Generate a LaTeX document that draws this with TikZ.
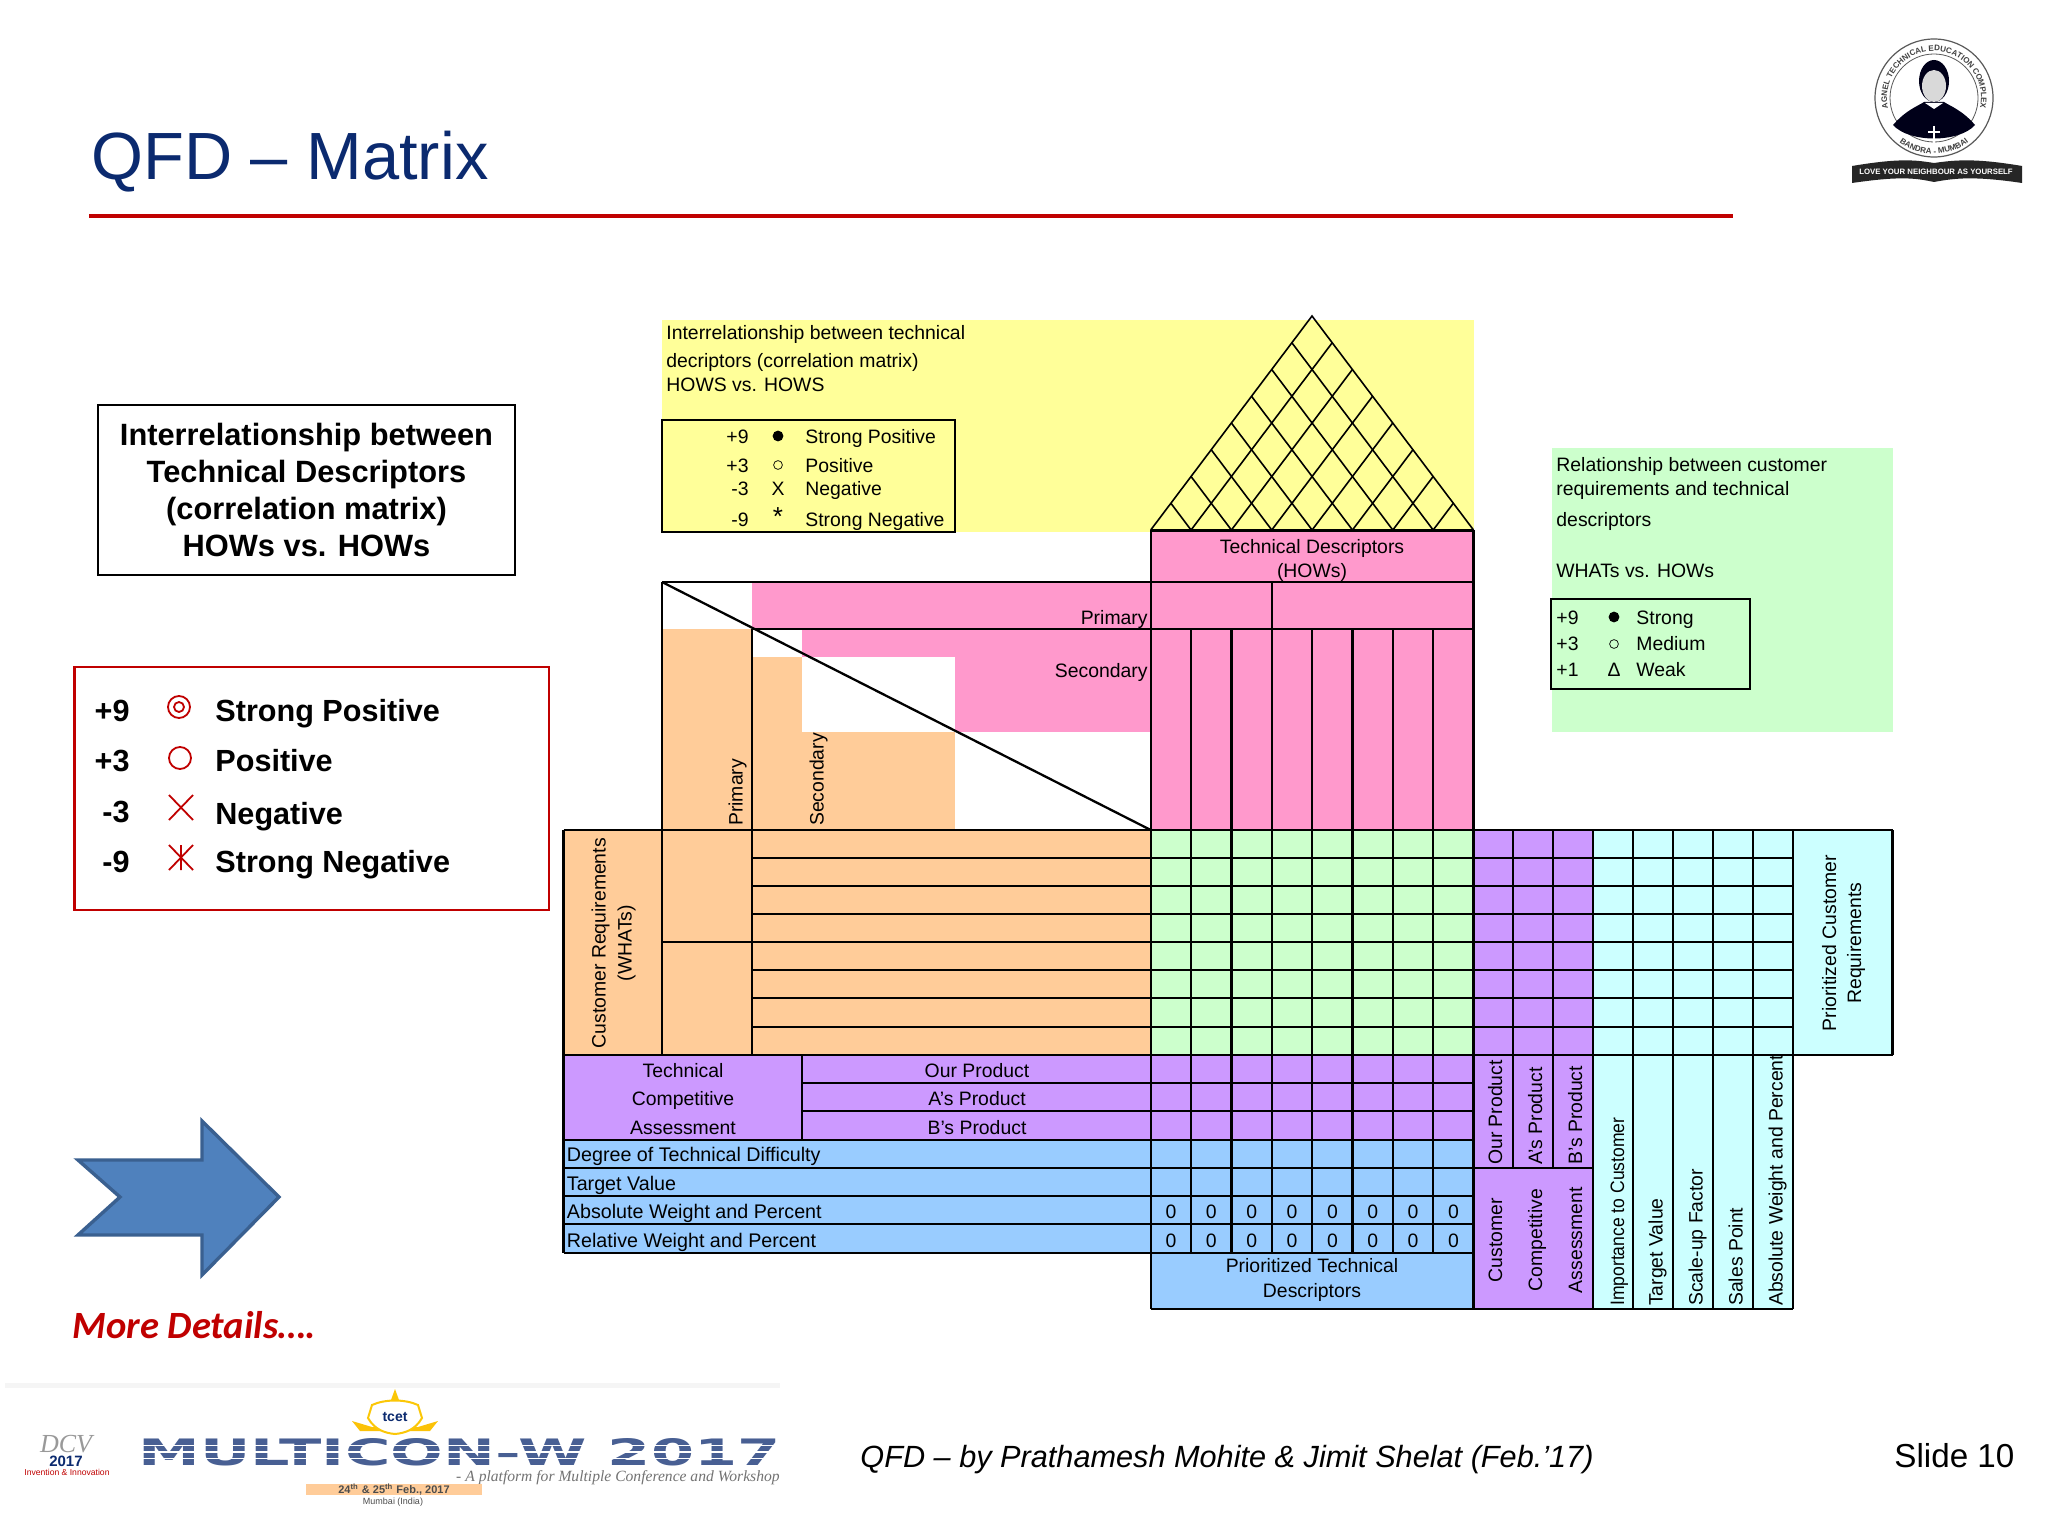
\documentclass[tikz,border=0pt]{standalone}
\usepackage{fontspec}
\setmainfont{Liberation Sans}
\newfontfamily\calibrifont{Carlito}
\newfontfamily\timesfont{Liberation Serif}
\newfontfamily\dejafont{DejaVu Sans}
\usetikzlibrary{decorations.text,calc}
\definecolor{qyellow}{HTML}{FFFF99}
\definecolor{qpink}{HTML}{FF99CC}
\definecolor{qorange}{HTML}{FFCC99}
\definecolor{qgreen}{HTML}{CCFFCC}
\definecolor{qpurple}{HTML}{CC99FF}
\definecolor{qblue}{HTML}{99CCFF}
\definecolor{qcyan}{HTML}{CCFFFF}
\definecolor{qred}{HTML}{C00000}
\definecolor{qnavy}{HTML}{0B2A6F}
\definecolor{qarrow}{HTML}{4F81BD}
\definecolor{qarrowline}{HTML}{3A6090}
\tikzset{
  tx/.style={font=\fontsize{9.7}{11}\selectfont,inner sep=0pt,text=black},
  txl/.style={tx,anchor=mid west,yshift=-1pt},
  txw/.style={tx,anchor=mid west,yshift=-1pt,font=\fontsize{9.85}{11}\selectfont},
  txr/.style={tx,anchor=mid east,yshift=-1pt},
  txc/.style={tx,anchor=mid,yshift=-1pt},
  txup/.style={tx,rotate=90,anchor=mid west,xshift=-0.6pt,yshift=-0.2pt},
  txupc/.style={tx,rotate=90,anchor=mid,xshift=-0.6pt,yshift=-0.2pt},
  gl/.style={line width=1.15pt,draw=black},
  glt/.style={line width=1.05pt,draw=black},
  lat/.style={line width=0.8pt,draw=black},
  big/.style={font=\fontsize{15.3}{17}\bfseries\selectfont,inner sep=0pt,text=black},
  foot/.style={inner sep=0pt,text=black,anchor=base west},
  redsym/.style={line width=0.9pt,draw=qred},
}
\begin{document}
\begin{tikzpicture}[x=0.5pt,y=-0.5pt]
\useasboundingbox (0,0) rectangle (2048,1513);
\fill[white] (0,0) rectangle (2048,1513);

% ---- title
\node[inner sep=0pt,anchor=base west,text=qnavy,font=\fontsize{33.4}{36}\selectfont] (title) at (91,180) {QFD – Matrix};
\draw[qred,line width=1.6pt] (89,216) -- (1733,216);

% ---- left legends
\node[draw=black,line width=1.1pt,minimum width=208.5pt,minimum height=85pt,align=center,inner sep=0pt,
      font=\fontsize{15.4}{18.6}\bfseries\selectfont] (corrbox) at (306.5,490)
  {Interrelationship between\\Technical Descriptors\\(correlation matrix)\\HOWs vs. HOWs};

\draw[qred,line width=1.1pt] (74.5,667) rectangle (549,910);
\node[big,anchor=mid east] (ln1) at (130,716) {+9};
\node[big,anchor=mid east] (ln2) at (130,766) {+3};
\node[big,anchor=mid east] (ln3) at (130,817) {-3};
\node[big,anchor=mid east] (ln4) at (130,867) {-9};
\node[big,anchor=mid west] (lt1) at (215,716) {Strong Positive};
\node[big,anchor=mid west] (lt2) at (215,766) {Positive};
\node[big,anchor=mid west] (lt3) at (215,819) {Negative};
\node[big,anchor=mid west] (lt4) at (215,867) {Strong Negative};
\draw[redsym] (179,707) circle[radius=11];
\draw[redsym] (179,707) circle[radius=5];
\draw[redsym] (180,758) circle[radius=11];
\draw[redsym] (169,795) -- (193,820) (193,795) -- (169,820);
\draw[redsym] (169,845) -- (193,870) (193,845) -- (169,870) (181,845) -- (181,870);

% ---- arrow and link text
\draw[fill=qarrow,draw=qarrowline,line width=1.7pt,line join=miter]
  (78,1160) -- (202,1160) -- (202,1121) -- (279,1197) -- (202,1275) -- (202,1235) -- (78,1235) -- (120,1197) -- cycle;
\node[inner sep=0pt,anchor=base west,text=qred,font=\calibrifont\fontsize{19.3}{21}\bfseries\itshape\selectfont] (more) at (72,1338) {More Details….};

% ---- yellow block
\fill[qyellow] (662,320) rectangle (1473.5,532);
\node[txl] (y1) at (666,332) {Interrelationship between technical};
\node[txl] (y2) at (666,360) {decriptors (correlation matrix)};
\node[txl] (y3) at (666,384) {HOWS vs. HOWS};
\draw[glt] (662,420) rectangle (955,532);
\node[txr] (yn1) at (749,436) {+9};
\node[txr] (yn2) at (749,465) {+3};
\node[txr] (yn3) at (749,488) {-3};
\node[txr] (yn4) at (749,519) {-9};
\node[circle,fill=black,minimum size=5.4pt,inner sep=0pt] (ys1) at (778,436) {};
\node[circle,draw=black,line width=0.35pt,minimum size=4.4pt,inner sep=0pt] (ys2) at (778,465) {};
\node[txc] (ys3) at (778,488) {X};
\node[tx,font=\fontsize{13}{14}\selectfont] (ys4) at (778,517) {*};
\node[txl] (yt1) at (805,436) {Strong Positive};
\node[txl] (yt2) at (805,465) {Positive};
\node[txl] (yt3) at (805,488) {Negative};
\node[txl] (yt4) at (805,519) {Strong Negative};

% ---- roof lattice
\coordinate (apex) at (1312,316);
\coordinate (roofL) at (1150.7,530);
\coordinate (roofR) at (1473.5,530);
\foreach \k in {1,...,7}{
  \draw[lat] ($(roofL)!\k/8!(roofR)$) -- ($(apex)!\k/8!(roofR)$);
  \draw[lat] ($(roofL)!\k/8!(roofR)$) -- ($(roofL)!\k/8!(apex)$);
}
\draw[lat,line join=miter] (roofL) -- (apex) -- (roofR);

% ---- pink ceiling
\fill[qpink] (1150.7,530) rectangle (1473.5,830);
\fill[qpink] (752,582) rectangle (1150.7,629);
\fill[qpink] (802,629) rectangle (1150.7,732);
\fill[white] (802,657) rectangle (955,732);
\draw[line width=1.5pt] (roofL) -- (roofR);
% ---- orange corner
\fill[qorange] (662,629) rectangle (752,830);
\fill[qorange] (752,657) rectangle (802,830);
\fill[qorange] (802,732) rectangle (955,830);
% ---- main colour blocks
\fill[qorange] (563.5,830) rectangle (1150.7,1055);
\fill[qgreen] (1150.7,830) rectangle (1473.5,1055);
\fill[qpurple] (563.5,1055) rectangle (1473.5,1139.7);
\fill[qblue] (563.5,1139.7) rectangle (1473.5,1252.7);
\fill[qblue] (1150.7,1252.7) rectangle (1473.5,1309);
\fill[qpurple] (1473.5,830) rectangle (1593,1309);
\fill[qcyan] (1593,830) rectangle (1793,1309);
\fill[qcyan] (1793,830) rectangle (1892.5,1055);
% ---- green note
\fill[qgreen] (1552,448) rectangle (1893,732);

% ---- lines of the ceiling and corner
\draw[gl] (1150.7,530) -- (1150.7,1309);
\draw[gl] (1473.5,530) -- (1473.5,1309);
\draw[gl] (662,582) -- (1473.5,582);
\draw[gl] (752,629) -- (1473.5,629);
\draw[gl] (662,582) -- (662,1055);
\draw[gl] (752,629) -- (752,1055);
\draw[gl] (1271.7,582) -- (1271.7,629);
\draw[gl] (662,582) -- (1150.7,830);
\foreach \i in {1,...,7}{
  \draw[gl] ({1150.7+\i*40.35},629) -- ({1150.7+\i*40.35},1252.7);
}
% ---- rows
\draw[gl] (563.5,830) -- (1892.5,830);
\foreach \y in {858,886,914,970,998,1027}{
  \draw[glt] (752,\y) -- (1793,\y);
}
\draw[glt] (662,942) -- (1793,942);
\draw[gl] (563.5,1055) -- (1892.5,1055);
\foreach \y in {1083,1111}{ \draw[glt] (802,\y) -- (1473.5,\y); }
\draw[gl] (563.5,1139.7) -- (1473.5,1139.7);
\foreach \y in {1168,1196,1224}{ \draw[glt] (563.5,\y) -- (1473.5,\y); }
\draw[gl] (563.5,1252.7) -- (1473.5,1252.7);
\draw[gl] (1150.7,1309) -- (1793,1309);
\draw[gl] (563.5,830) -- (563.5,1252.7);
\draw[gl] (802,1055) -- (802,1139.7);
% ---- right room
\draw[gl] (1513,830) -- (1513,1168);
\draw[gl] (1553,830) -- (1553,1168);
\draw[gl] (1473.5,1168) -- (1593,1168);
\foreach \x in {1593,1633,1673,1713,1753,1793}{ \draw[gl] (\x,830) -- (\x,1309); }
\draw[gl] (1892.5,830) -- (1892.5,1055);

% ---- ceiling text
\node[txc] (td1) at (1312,546) {Technical Descriptors};
\node[txc] (td2) at (1312,570) {(HOWs)};
\node[txr] (pri) at (1148,617) {Primary};
\node[txr] (sec) at (1148,670) {Secondary};
\node[txup] (pri2) at (737,825) {Primary};
\node[txup] (sec2) at (818,825) {Secondary};
\node[txupc] (cr1) at (600,942) {Customer Requirements};
\node[txupc] (cr2) at (626,942) {(WHATs)};

% ---- competitive assessment rows
\node[txc] (tc1) at (683,1070) {Technical};
\node[txc] (tc2) at (683,1098) {Competitive};
\node[txc] (tc3) at (683,1127) {Assessment};
\node[txc] (op1) at (977,1070) {Our Product};
\node[txc] (op2) at (977,1098) {A's Product};
\node[txc] (op3) at (977,1127) {B's Product};
\node[txw] (bl1) at (566.5,1154) {Degree of Technical Difficulty};
\node[txw] (bl2) at (566.5,1183) {Target Value};
\node[txw] (bl3) at (566.5,1211) {Absolute Weight and Percent};
\node[txw] (bl4) at (566.5,1240) {Relative Weight and Percent};
\foreach \i in {0,...,7}{
  \node[txc] (za\i) at ({1171+\i*40.35},1211) {0};
  \node[txc] (zb\i) at ({1171+\i*40.35},1240) {0};
}
\node[txc] (pt1) at (1312,1265) {Prioritized Technical};
\node[txc] (pt2) at (1312,1290) {Descriptors};

% ---- right room text
\node[txup] (r1) at (1496.5,1164) {Our Product};
\node[txup] (r2) at (1536.5,1164) {A's Product};
\node[txup] (r3) at (1576.5,1164) {B's Product};
\node[txupc] (r4) at (1496.5,1239) {Customer};
\node[txupc] (r5) at (1536.5,1239) {Competitive};
\node[txupc] (r6) at (1576.5,1239) {Assessment};
\node[txup] (c1) at (1618.5,1305) {\scalebox{0.905}[1]{Importance to Customer}};
\node[txup] (c2) at (1657,1305) {Target Value};
\node[txup] (c3) at (1697,1305) {Scale-up Factor};
\node[txup] (c4) at (1737,1305) {Sales Point};
\node[txup] (c5) at (1777,1305) {Absolute Weight and Percent};
\node[txupc] (pc1) at (1830.5,942) {Prioritized Customer};
\node[txupc] (pc2) at (1855.5,942) {Requirements};

% ---- green note text
\node[txl] (g1) at (1556,464) {Relationship between customer};
\node[txl] (g2) at (1556,488) {requirements and technical};
\node[txl] (g3) at (1556,519) {descriptors};
\node[txl] (g4) at (1556,570) {WHATs vs. HOWs};
\draw[glt] (1551,599) rectangle (1750,689);
\node[txl] (gn1) at (1556,617) {+9};
\node[txl] (gn2) at (1556,643) {+3};
\node[txl] (gn3) at (1556,669) {+1};
\node[circle,fill=black,minimum size=5.4pt,inner sep=0pt] (gs1) at (1614,617) {};
\node[circle,draw=black,line width=0.35pt,minimum size=4.4pt,inner sep=0pt] (gs2) at (1614,644) {};
\node[txc] (gs3) at (1614,669) {Δ};
\node[txl] (gt1) at (1636,617) {Strong};
\node[txl] (gt2) at (1636,643) {Medium};
\node[txl] (gt3) at (1636,669) {Weak};

% ---- footer
\node[foot,font=\fontsize{15.34}{18}\itshape\selectfont] (ft) at (860,1467) {QFD – by Prathamesh Mohite \& Jimit Shelat (Feb.’17)};
\node[foot,font=\fontsize{16.6}{18}\selectfont] (sl) at (1894,1467) {Slide 10};

% ---- seal, top right
\begin{scope}[shift={(1934,98)},x=0.5pt,y=0.5pt]
  \draw[black!65,line width=0.6pt] (0,0) circle[radius=59];
  \draw[black!65,line width=0.4pt] (0,0) circle[radius=44];
  \path[decorate,decoration={text along path,text align=center,
        text={|\fontsize{4}{5}\bfseries\selectfont\color{black!75}|AGNEL TECHNICAL EDUCATION COMPLEX}}]
     (215:47) arc (215:-35:47);
  \path[decorate,decoration={text along path,text align=center,
        text={|\fontsize{4}{5}\bfseries\selectfont\color{black!75}|BANDRA - MUMBAI}}]
     (215:56) arc (215:325:56);
  \fill[black!90!blue] (-41,-27) .. controls (-28,-12) and (-16,-8) .. (-10,-4) -- (10,-4) .. controls (16,-8) and (28,-12) .. (41,-27) .. controls (25,-45) and (-25,-45) .. (-41,-27) -- cycle;
  \fill[black!90!blue] (0,17) ellipse[x radius=15,y radius=21];
  \fill[black!15] (0,12) ellipse[x radius=12,y radius=16];
  \fill[white] (-9,-5) -- (9,-5) -- (0,-11) -- cycle;
  \draw[white,line width=0.7pt] (0,-28) -- (0,-46) (-6,-34) -- (6,-34);
\end{scope}
\fill[black!85] (1852,166) .. controls (1900,158) and (1915,160) .. (1934,163) .. controls (1955,160) and (1975,158) .. (2022,166) -- (2022,183) .. controls (1975,176) and (1955,178) .. (1934,182) .. controls (1915,178) and (1900,176) .. (1852,183) -- cycle;
\node[inner sep=0pt,text=white,font=\fontsize{3.9}{5}\bfseries\selectfont] (motto) at (1936,172) {LOVE YOUR NEIGHBOUR AS YOURSELF};

% ---- conference banner, bottom left
\fill[black!4] (5,1383) rectangle (780,1388);
\node[inner sep=0pt,anchor=base west,text=qnavy!75!white] (mw) at (138,1465)
  {\resizebox{321pt}{13.5pt}{\dejafont\bfseries MULTICON-W 2017}};
\foreach \y in {1444.5,1451,1457.5}{ \fill[white] (136,\y) rectangle (782,{\y+1.6}); }
\node[inner sep=0pt,anchor=mid east,text=black!55,font=\timesfont\fontsize{7.8}{9}\itshape\selectfont] (plat) at (780,1476) {- A platform for Multiple Conference and Workshop};
\fill[qorange] (306,1484) rectangle (482,1495);
\node[inner sep=0pt,text=black!70,font=\fontsize{5.5}{6}\bfseries\selectfont] (date) at (394,1489.5) {24\textsuperscript{th} \& 25\textsuperscript{th} Feb., 2017};
\node[inner sep=0pt,text=black!70,font=\fontsize{4.5}{5}\selectfont] (mum) at (393,1502) {Mumbai (India)};
\fill[yellow!55!orange] (352,1421) -- (372,1427) -- (418,1427) -- (438,1421) -- (430,1431) -- (360,1431) -- cycle;
\draw[yellow!60!orange,fill=white,line width=1pt] (372,1405) .. controls (385,1399) and (405,1399) .. (418,1405) -- (422,1418) .. controls (415,1430) and (405,1433) .. (395,1434) .. controls (385,1433) and (375,1430) .. (368,1418) -- cycle;
\fill[yellow!60!orange] (395,1389) -- (399,1400) -- (391,1400) -- cycle;
\node[inner sep=0pt,text=qnavy,font=\fontsize{7}{8}\bfseries\selectfont] (tcet) at (395,1417) {tcet};
\node[inner sep=0pt,text=black!40,font=\timesfont\fontsize{13}{14}\itshape\selectfont] (dcv) at (66,1444) {DCV};
\node[inner sep=0pt,text=qnavy,font=\fontsize{7.5}{8}\bfseries\selectfont] (yr) at (66,1461) {2017};
\node[inner sep=0pt,text=qred,font=\fontsize{4.3}{5}\selectfont] (inv) at (67,1472) {Invention \& Innovation};
\end{tikzpicture}
\end{document}
